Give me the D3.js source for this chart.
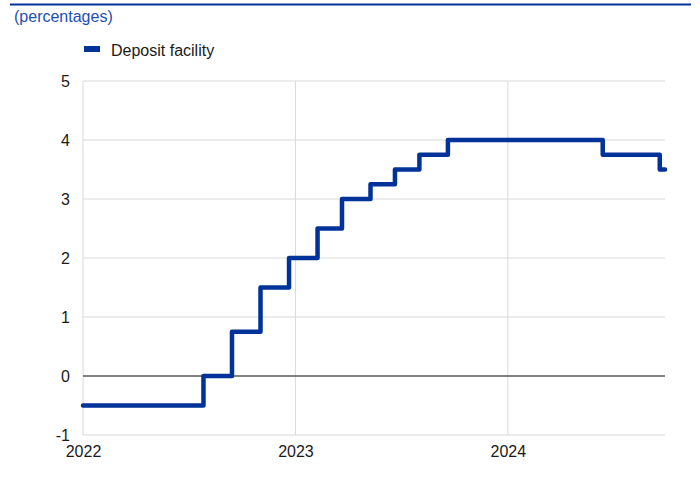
<!DOCTYPE html>
<html lang="en">
<head>
<meta charset="utf-8">
<title>Deposit facility</title>
<script src="https://cdn.jsdelivr.net/npm/d3@7"></script>
<style>
    body { margin: 0; background: #fff; }
    svg text { font-family: "Liberation Sans", Arial, sans-serif; }
    .grid line { stroke: #d9d9d9; stroke-width: 1; }
    .tick text { font-size: 16px; fill: #1a1a1a; }
</style>
</head>
<body>
<svg width="700" height="479"></svg>
<script>
// policy rate decisions (date the new rate took effect) and the rate after it
var changeDates = ["2022-01-01", "2022-07-27", "2022-09-14", "2022-11-02", "2022-12-21",
                   "2023-02-08", "2023-03-22", "2023-05-10", "2023-06-21", "2023-08-02",
                   "2023-09-20", "2024-06-12", "2024-09-18"];
var rates = [-0.5, 0, 0.75, 1.5, 2, 2.5, 3, 3.25, 3.5, 3.75, 4, 3.75, 3.5];
var lastDate = "2024-09-27";
var yTicks = [-1, 0, 1, 2, 3, 4, 5];
var xTicks = ["2022-01-01", "2023-01-01", "2024-01-01"];

var svg = d3.select("svg"),
    margin = {top: 81, right: 35, bottom: 44, left: 83},
    width = +svg.attr("width") - margin.left - margin.right,
    height = +svg.attr("height") - margin.top - margin.bottom;

var parse = d3.timeParse("%Y-%m-%d");
var blue = "#003299";

// header rule and unit label
svg.append("line")
    .attr("x1", 10).attr("x2", 691).attr("y1", 4.5).attr("y2", 4.5)
    .attr("stroke", blue).attr("stroke-width", 2);
svg.append("text")
    .attr("x", 14).attr("y", 22)
    .attr("fill", "#2150b4").style("font-size", "16px")
    .text("(percentages)");

// legend
svg.append("rect")
    .attr("x", 84).attr("y", 46).attr("width", 16).attr("height", 6)
    .attr("fill", blue);
svg.append("text")
    .attr("x", 111).attr("y", 56)
    .attr("fill", "#1a1a1a").style("font-size", "16px")
    .text("Deposit facility");

var g = svg.append("g").attr("transform", "translate(" + margin.left + "," + margin.top + ")");

var x = d3.scaleTime()
    .domain([parse(changeDates[0]), parse(lastDate)])
    .range([0, width]);
var y = d3.scaleLinear()
    .domain([-1, 5])
    .range([height, 0]);

// horizontal gridlines
g.append("g").attr("class", "grid")
    .selectAll("line")
    .data(yTicks.filter(function (d) { return d !== 0; }))
    .enter().append("line")
    .attr("x1", 0).attr("x2", width)
    .attr("y1", function (d) { return y(d); })
    .attr("y2", function (d) { return y(d); });

// vertical gridlines
g.append("g").attr("class", "grid")
    .selectAll("line")
    .data(xTicks.map(parse))
    .enter().append("line")
    .attr("x1", function (d) { return x(d); })
    .attr("x2", function (d) { return x(d); })
    .attr("y1", 0).attr("y2", height);

// zero line
g.append("line")
    .attr("x1", 0).attr("x2", width)
    .attr("y1", y(0)).attr("y2", y(0))
    .attr("stroke", "#595959").attr("stroke-width", 1.3);

// y axis labels
var yAxis = g.append("g")
    .call(d3.axisLeft(y).tickValues(yTicks).tickSize(0).tickPadding(13).tickFormat(function (d) { return String(d); }));
yAxis.select(".domain").remove();

// x axis labels
var xAxis = g.append("g")
    .attr("transform", "translate(0," + height + ")")
    .call(d3.axisBottom(x).tickValues(xTicks.map(parse)).tickSize(0).tickPadding(10).tickFormat(d3.timeFormat("%Y")));
xAxis.select(".domain").remove();
xAxis.selectAll("text").attr("dy", "0.75em");

// series
var points = changeDates.map(function (d, i) { return {date: parse(d), value: rates[i]}; });
points.push({date: parse(lastDate), value: rates[rates.length - 1]});

var line = d3.line()
    .x(function (d) { return x(d.date); })
    .y(function (d) { return y(d.value); })
    .curve(d3.curveStepAfter);

g.append("path")
    .datum(points)
    .attr("fill", "none")
    .attr("stroke", blue)
    .attr("stroke-width", 4.5)
    .attr("stroke-linejoin", "round")
    .attr("stroke-linecap", "round")
    .attr("d", line);
</script>
</body>
</html>
